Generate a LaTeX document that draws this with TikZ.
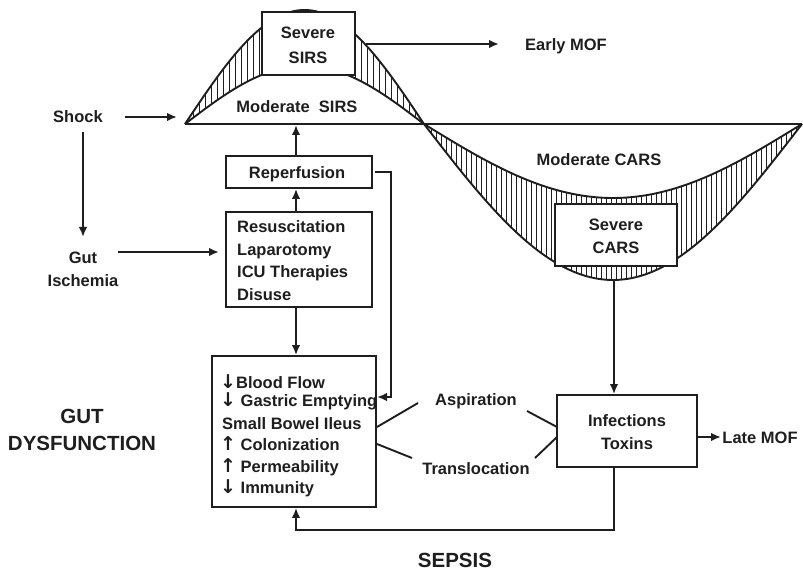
\documentclass[tikz,border=0pt]{standalone}
\usepackage{fontspec}
\setmainfont{Liberation Sans}
\newfontfamily\arrfont{DejaVu Sans}
\usetikzlibrary{arrows.meta}
\definecolor{ink}{HTML}{1E1E1E}
\newcommand\dnarr{{\arrfont\fontsize{19}{20}\selectfont ↓}}
\newcommand\uparr{{\arrfont\fontsize{19}{20}\selectfont ↑}}
\begin{document}
\begin{tikzpicture}[x=1pt,y=-1pt,
  lbl/.style={font=\bfseries\fontsize{16.5}{20}\selectfont, text=ink, inner sep=0pt, anchor=base},
  lbll/.style={lbl, anchor=base west},
  big/.style={font=\bfseries\fontsize{20.5}{25}\selectfont, text=ink, inner sep=0pt, anchor=base},
  box/.style={draw=ink, line width=1.6pt, fill=white, inner sep=0pt},
  tip/.tip={Latex[length=10pt,width=8.5pt]},
  arr/.style={draw=ink, line width=2.3pt, -tip},
  ln/.style={draw=ink, line width=1.9pt},
  curve/.style={draw=ink, line width=1.9pt},
  hatch/.style={draw=ink, line width=0.9pt},
]
\useasboundingbox (0,0) rectangle (803,572);

% hatching SIRS
\begin{scope}
\clip plot[domain=185:424,samples=90] (\x,{124-114*sin((\x-185)/239*180)})
   -- plot[domain=424:185,samples=90] (\x,{124-58*sin((\x-185)/239*180)}) -- cycle;
\foreach \h in {187,193,...,424} \draw[hatch] (\h,0) -- (\h,130);
\end{scope}
% hatching CARS
\begin{scope}
\clip plot[domain=424:802,samples=90] (\x,{124+156*sin((\x-424)/378*180)})
   -- plot[domain=802:424,samples=90] (\x,{124+74*sin((\x-424)/378*180)}) -- cycle;
\foreach \h in {426,431,...,802} \draw[hatch] (\h,118) -- (\h,290);
\end{scope}

% curves
\draw[curve] plot[domain=185:424,samples=90] (\x,{124-114*sin((\x-185)/239*180)})
   -- plot[domain=424:802,samples=90] (\x,{124+156*sin((\x-424)/378*180)});
\draw[curve] plot[domain=185:424,samples=90] (\x,{124-58*sin((\x-185)/239*180)})
   -- plot[domain=424:802,samples=90] (\x,{124+74*sin((\x-424)/378*180)});
\draw[ln, line width=1.6pt] (185,124) -- (802,124);

% boxes
\node[box, minimum width=93pt, minimum height=63pt] (sirs) at (308.5,43.5) {};
\node[lbl] (sirs1) at (308,39) {Severe};
\node[lbl] (sirs2) at (308,64) {SIRS};
\node[box, minimum width=122pt, minimum height=62pt] (cars) at (616,235) {};
\node[lbl] (cars1) at (616,230) {Severe};
\node[lbl] (cars2) at (616,253) {CARS};

\node[lbl] (modsirs) at (297,113) {Moderate\ \ SIRS};
\node[lbl] (modcars) at (599,166) {Moderate CARS};
\node[lbl] (emof) at (566,51) {Early MOF};

\node[box, minimum width=146pt, minimum height=32pt] (reperf) at (299,172) {};
\node[lbl] (reperft) at (297,179) {Reperfusion};

\node[box, minimum width=146pt, minimum height=95pt] (resus) at (299,259.5) {};
\node[lbll] (r1) at (237,233) {Resuscitation};
\node[lbll] (r2) at (237,255) {Laparotomy};
\node[lbll] (r3) at (237,277.5) {ICU Therapies};
\node[lbll] (r4) at (237,300) {Disuse};

\node[box, minimum width=164pt, minimum height=151pt] (gutbox) at (294,431.5) {};
\node[lbll] (g1) at (220,388) {\dnarr Blood Flow};
\node[lbll] (g2) at (220,406) {\dnarr\ Gastric Emptying};
\node[lbll] (g3) at (222,429) {Small Bowel Ileus};
\node[lbll] (g4) at (220,450) {\uparr\ Colonization};
\node[lbll] (g5) at (220,472) {\uparr\ Permeability};
\node[lbll] (g6) at (220,493) {\dnarr\ Immunity};

\node[box, minimum width=140pt, minimum height=72pt] (infect) at (627,431) {};
\node[lbl] (inf1) at (627,426) {Infections};
\node[lbl] (inf2) at (627,449) {Toxins};
\node[lbl] (lmof) at (760,443) {Late MOF};

\node[lbl] (asp) at (476,405) {Aspiration};
\node[lbl] (trans) at (476,474) {Translocation};

\node[lbl] (shock) at (78,123) {Shock};
\node[lbl] (gut1) at (83,263) {Gut};
\node[lbl] (gut2) at (83,286) {Ischemia};

\node[big] (gd1) at (82,423) {GUT};
\node[big] (gd2) at (82,450) {DYSFUNCTION};
\node[big] (sepsis) at (455,567) {SEPSIS};

% connectors
\coordinate (shA) at (125,117);
\coordinate (shB) at (177,117);
\draw[arr] (shA) -- (shB);
\coordinate (sdA) at (83,132);
\coordinate (sdB) at (83,237);
\draw[arr] (sdA) -- (sdB);
\coordinate (giA) at (118,252);
\coordinate (giB) at (219,252);
\draw[arr] (giA) -- (giB);

\coordinate (emA) at (366,44);
\coordinate (emB) at (499,44);
\draw[arr] (emA) -- (emB);

\coordinate (base) at (296,125);
\draw[arr] (reperf.north -| base) -- (base);
\draw[arr] (resus.north -| base) -- (reperf.south -| base);
\draw[arr] (resus.south -| base) -- (gutbox.north -| base);

\coordinate (rpA) at (375,172);
\coordinate (rpB) at (391,172);
\coordinate (rpC) at (391,397);
\coordinate (rpD) at (377,397);
\draw[arr] (rpA) -- (rpB) -- (rpC) -- (rpD);

\coordinate (a1) at (377,427); \coordinate (a2) at (418,403);
\coordinate (t1) at (377,444); \coordinate (t2) at (412,458);
\coordinate (a3) at (527,411); \coordinate (a4) at (557,427);
\coordinate (t3) at (535,458); \coordinate (t4) at (557,437);
\draw[ln] (a1) -- (a2);
\draw[ln] (t1) -- (t2);
\draw[ln] (a3) -- (a4);
\draw[ln] (t3) -- (t4);

\coordinate (carsbot) at (614,279);
\draw[arr] (carsbot) -- (infect.north -| carsbot);
\coordinate (lA) at (697,437);
\coordinate (lB) at (721,437);
\draw[arr] (lA) -- (lB);
\coordinate (fb1) at (614,530);
\coordinate (fb2) at (296,530);
\draw[arr] (infect.south -| fb1) -- (fb1) -- (fb2) -- (gutbox.south -| fb2);
\end{tikzpicture}
\end{document}
